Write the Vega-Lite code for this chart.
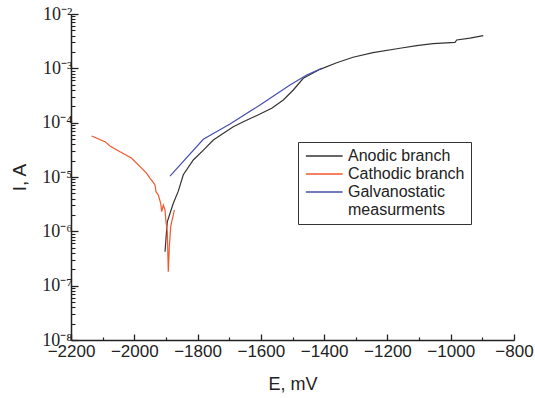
{
  "$schema": "https://vega.github.io/schema/vega-lite/v6.json",
  "width": 443,
  "height": 326,
  "autosize": "none",
  "padding": {"left": 71, "top": 14, "right": 21, "bottom": 58},
  "background": "white",
  "config": {"view": {"stroke": null}},
  "data": {
    "values": [
      {"series": "Anodic branch", "E": -1902.9, "I": 4.22e-7},
      {"series": "Anodic branch", "E": -1899.8, "I": 7.44e-7},
      {"series": "Anodic branch", "E": -1895.7, "I": 1.5e-6},
      {"series": "Anodic branch", "E": -1887.1, "I": 2.15e-6},
      {"series": "Anodic branch", "E": -1876.7, "I": 3.28e-6},
      {"series": "Anodic branch", "E": -1860.9, "I": 5.5e-6},
      {"series": "Anodic branch", "E": -1845.1, "I": 1.1e-5},
      {"series": "Anodic branch", "E": -1813.5, "I": 2.06e-5},
      {"series": "Anodic branch", "E": -1780.0, "I": 3.2e-5},
      {"series": "Anodic branch", "E": -1750.3, "I": 4.8e-5},
      {"series": "Anodic branch", "E": -1687.1, "I": 8.43e-5},
      {"series": "Anodic branch", "E": -1655.5, "I": 1.04e-4},
      {"series": "Anodic branch", "E": -1602.7, "I": 1.44e-4},
      {"series": "Anodic branch", "E": -1565.7, "I": 1.84e-4},
      {"series": "Anodic branch", "E": -1529.1, "I": 2.61e-4},
      {"series": "Anodic branch", "E": -1497.5, "I": 3.99e-4},
      {"series": "Anodic branch", "E": -1465.9, "I": 6.55e-4},
      {"series": "Anodic branch", "E": -1413.1, "I": 9.59e-4},
      {"series": "Anodic branch", "E": -1360.3, "I": 1.27e-3},
      {"series": "Anodic branch", "E": -1308.8, "I": 1.6e-3},
      {"series": "Anodic branch", "E": -1245.6, "I": 1.94e-3},
      {"series": "Anodic branch", "E": -1160.3, "I": 2.34e-3},
      {"series": "Anodic branch", "E": -1107.5, "I": 2.61e-3},
      {"series": "Anodic branch", "E": -1056.0, "I": 2.84e-3},
      {"series": "Anodic branch", "E": -986.5, "I": 3.01e-3},
      {"series": "Anodic branch", "E": -981.1, "I": 3.32e-3},
      {"series": "Anodic branch", "E": -939.1, "I": 3.61e-3},
      {"series": "Anodic branch", "E": -897.0, "I": 3.99e-3},
      {"series": "Cathodic branch", "E": -2134.6, "I": 5.68e-5},
      {"series": "Cathodic branch", "E": -2092.6, "I": 4.47e-5},
      {"series": "Cathodic branch", "E": -2076.7, "I": 3.72e-5},
      {"series": "Cathodic branch", "E": -2045.1, "I": 2.92e-5},
      {"series": "Cathodic branch", "E": -2008.2, "I": 2.21e-5},
      {"series": "Cathodic branch", "E": -1981.9, "I": 1.55e-5},
      {"series": "Cathodic branch", "E": -1960.8, "I": 1.17e-5},
      {"series": "Cathodic branch", "E": -1950.3, "I": 9.46e-6},
      {"series": "Cathodic branch", "E": -1941.8, "I": 8.19e-6},
      {"series": "Cathodic branch", "E": -1934.5, "I": 7.12e-6},
      {"series": "Cathodic branch", "E": -1931.4, "I": 5.36e-6},
      {"series": "Cathodic branch", "E": -1924.1, "I": 4.66e-6},
      {"series": "Cathodic branch", "E": -1916.5, "I": 3.28e-6},
      {"series": "Cathodic branch", "E": -1913.4, "I": 2.3e-6},
      {"series": "Cathodic branch", "E": -1908.3, "I": 3.05e-6},
      {"series": "Cathodic branch", "E": -1902.9, "I": 2.47e-6},
      {"series": "Cathodic branch", "E": -1899.8, "I": 1.5e-6},
      {"series": "Cathodic branch", "E": -1895.7, "I": 9.84e-7},
      {"series": "Cathodic branch", "E": -1892.5, "I": 1.81e-7},
      {"series": "Cathodic branch", "E": -1889.3, "I": 5.21e-7},
      {"series": "Cathodic branch", "E": -1884.9, "I": 1.22e-6},
      {"series": "Cathodic branch", "E": -1881.8, "I": 1.5e-6},
      {"series": "Cathodic branch", "E": -1876.7, "I": 2.0e-6},
      {"series": "Cathodic branch", "E": -1873.5, "I": 2.47e-6},
      {"series": "Galvanostatic measurments", "E": -1887.1, "I": 1.04e-5},
      {"series": "Galvanostatic measurments", "E": -1781.9, "I": 4.94e-5},
      {"series": "Galvanostatic measurments", "E": -1697.5, "I": 9.45e-5},
      {"series": "Galvanostatic measurments", "E": -1602.7, "I": 2.11e-4},
      {"series": "Galvanostatic measurments", "E": -1507.9, "I": 4.93e-4},
      {"series": "Galvanostatic measurments", "E": -1455.1, "I": 7.54e-4},
      {"series": "Galvanostatic measurments", "E": -1407.7, "I": 1.0e-3}
    ]
  },
  "layer": [
    {
      "mark": {"type": "line", "strokeWidth": 1.2},
      "encoding": {
        "x": {
          "field": "E", "type": "quantitative",
          "scale": {"domain": [-2200, -800], "nice": false, "zero": false},
          "axis": {
            "orient": "bottom",
            "values": [-2200, -2000, -1800, -1600, -1400, -1200, -1000, -800],
            "format": "d",
            "title": "E, mV", "titleFont": "Liberation Sans", "titleFontSize": 18, "titleFontWeight": "normal", "titleColor": "#222", "titlePadding": 16,
            "labelFont": "Liberation Sans", "labelFontSize": 17, "labelColor": "#222", "labelPadding": 9, "labelFlush": false, "labelOverlap": false,
            "tickSize": -6, "tickColor": "#222", "tickWidth": 1.3,
            "domainColor": "#222", "domainWidth": 1.5, "grid": false
          }
        },
        "y": {
          "field": "I", "type": "quantitative",
          "scale": {"type": "log", "domain": [1e-8, 1e-2], "nice": false},
          "axis": {
            "orient": "left",
            "values": [1e-8, 1e-7, 1e-6, 1e-5, 1e-4, 1e-3, 1e-2],
            "labelExpr": "'10' + ['⁻⁸','⁻⁷','⁻⁶','⁻⁵','⁻⁴','⁻³','⁻²'][round(log(datum.value)/LN10)+8]",
            "title": "I, A", "titleFont": "Liberation Sans", "titleFontSize": 19, "titleFontWeight": "normal", "titleColor": "#222", "titlePadding": 12,
            "labelFont": "Liberation Serif", "labelFontSize": 18, "labelColor": "#222", "labelPadding": 6, "labelFlush": false, "labelOverlap": false,
            "tickSize": -7, "tickColor": "#222", "tickWidth": 1.3,
            "domainColor": "#222", "domainWidth": 1.5, "grid": false
          }
        },
        "color": {
          "field": "series", "type": "nominal",
          "scale": {"domain": ["Anodic branch", "Cathodic branch", "Galvanostatic measurments"], "range": ["#333333", "#f2572b", "#4450ad"]},
          "legend": {
            "orient": "none", "legendX": 227, "legendY": 128,
            "title": null, "strokeColor": "#333", "padding": 6,
            "symbolType": "M-1,0L5,0", "symbolSize": 150, "symbolStrokeWidth": 1.3,
            "labelFont": "Liberation Sans", "labelFontSize": 16, "labelColor": "#222",
            "rowPadding": 2, "labelOffset": 28,
            "labelExpr": "datum.label == 'Galvanostatic measurments' ? ['Galvanostatic', 'measurments'] : datum.label"
          }
        }
      }
    },
    {
      "mark": {"type": "line", "opacity": 0},
      "encoding": {
        "x": {
          "field": "E", "type": "quantitative",
          "axis": {
            "orient": "bottom",
            "values": [-2100, -1900, -1700, -1500, -1300, -1100, -900],
            "labels": false, "title": null, "domain": false, "grid": false,
            "tickSize": -3, "tickColor": "#222", "tickWidth": 1.2
          }
        },
        "y": {
          "field": "I", "type": "quantitative",
          "axis": {
            "orient": "left",
            "values": [2e-8,3e-8,4e-8,5e-8,6e-8,7e-8,8e-8,9e-8,2e-7,3e-7,4e-7,5e-7,6e-7,7e-7,8e-7,9e-7,2e-6,3e-6,4e-6,5e-6,6e-6,7e-6,8e-6,9e-6,2e-5,3e-5,4e-5,5e-5,6e-5,7e-5,8e-5,9e-5,2e-4,3e-4,4e-4,5e-4,6e-4,7e-4,8e-4,9e-4,2e-3,3e-3,4e-3,5e-3,6e-3,7e-3,8e-3,9e-3],
            "labels": false, "title": null, "domain": false, "grid": false,
            "tickSize": -4, "tickColor": "#222", "tickWidth": 1.1
          }
        },
        "detail": {"field": "series", "type": "nominal"}
      }
    }
  ],
  "resolve": {"axis": {"x": "independent", "y": "independent"}}
}
